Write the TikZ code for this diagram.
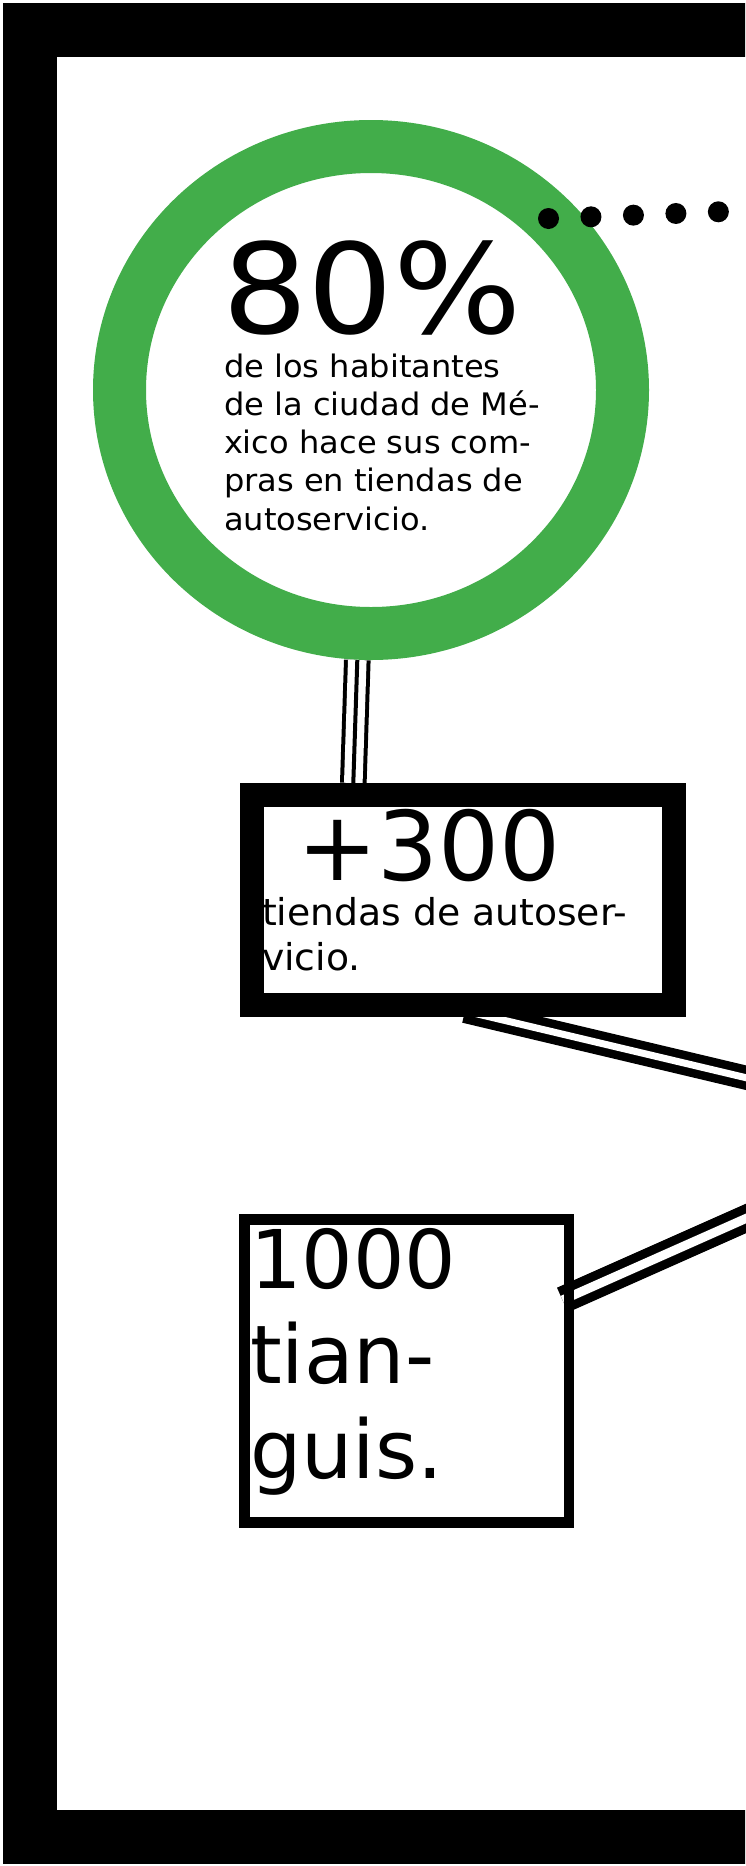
\documentclass[tikz,border=0pt]{standalone}
\usepackage{fontspec}
\setmainfont{DejaVu Sans}
\newfontfamily\widebig[FakeStretch=1.08]{DejaVu Sans}
\newfontfamily\widebody[FakeStretch=1.035]{DejaVu Sans}
\newfontfamily\widebox[FakeStretch=1.02]{DejaVu Sans}
\usetikzlibrary{shapes.geometric,backgrounds}
\definecolor{ringgreen}{RGB}{66,173,74}
\begin{document}
\begin{tikzpicture}[x=1pt,y=-1pt,
  framestyle/.style={draw=black, line width=54pt},
  ring/.style={ellipse, draw=ringgreen, line width=53pt, inner sep=0pt, minimum width=503pt, minimum height=487pt},
  heavybox/.style={rectangle, draw=black, fill=white, line width=24pt, inner sep=0pt},
  lightbox/.style={rectangle, draw=black, line width=10.5pt, inner sep=0pt},
  txt/.style={inner sep=0pt, outer sep=0pt, anchor=base west, align=left, text=black},
  tripleline/.style={draw=black, line width=26.6pt, postaction={draw=white, line width=18.6pt}, postaction={draw=black, line width=4pt}},
  dbl/.style={draw=black, line width=8.5pt, double=white, double distance=7pt},
  dblwide/.style={draw=black, line width=9pt, double=white, double distance=9pt},
  dotline/.style={draw=black, line width=21pt, line cap=round, dash pattern=on 0pt off 42.5pt}
]
\useasboundingbox (0,0) rectangle (745,1866);
\clip (0,0) rectangle (745,1866);

% outer frame
\draw[framestyle] (30,30) rectangle (1200,1837);

% nodes
\node[ring] (circ) at (371,390) {};
\node[heavybox, minimum width=422pt, minimum height=210pt] (box1) at (463,900) {};
\node[lightbox, minimum width=324.5pt, minimum height=303pt] (box2) at (406.75,1371) {};

% texts (base anchor = baseline of the last line)
\node[txt, font=\widebig\fontsize{125}{125}\selectfont] (t80) at (222,333.5) {80\%};
\node[txt, font=\widebody\fontsize{31}{38.3}\selectfont] (tbody) at (224,530.2)
  {de los habitantes\\de la ciudad de Mé-\\xico hace sus com-\\pras en tiendas de\\autoservicio.};
\node[txt, font=\fontsize{96}{96}\selectfont] (t300) at (297,880) {+300};
\node[txt, font=\widebox\fontsize{37}{45}\selectfont] (tbody2) at (262,970) {tiendas de autoser-\\vicio.};
\node[txt, font=\fontsize{81}{95}\selectfont] (t1000) at (250,1478) {1000\\tian-\\guis.};

% off-canvas ends
\coordinate (d0) at (548.5,218.5);
\coordinate (off1) at (1000,200.7);
\coordinate (off2) at (1000,1138);
\coordinate (off3) at (1000,1105.5);

% dotted connector on top of the ring
\draw[dotline] (d0) -- (off1);

\begin{pgfonlayer}{background}
  \draw[tripleline] ([xshift=-13.7pt]circ.south) -- ([xshift=-109.7pt]box1.north);
  \draw[dbl] ([shift={(2,-6)}]box1.south) -- (off2);
  \draw[dblwide] ([shift={(-11.75,-71)}]box2.east) -- (off3);
\end{pgfonlayer}
\end{tikzpicture}
\end{document}
